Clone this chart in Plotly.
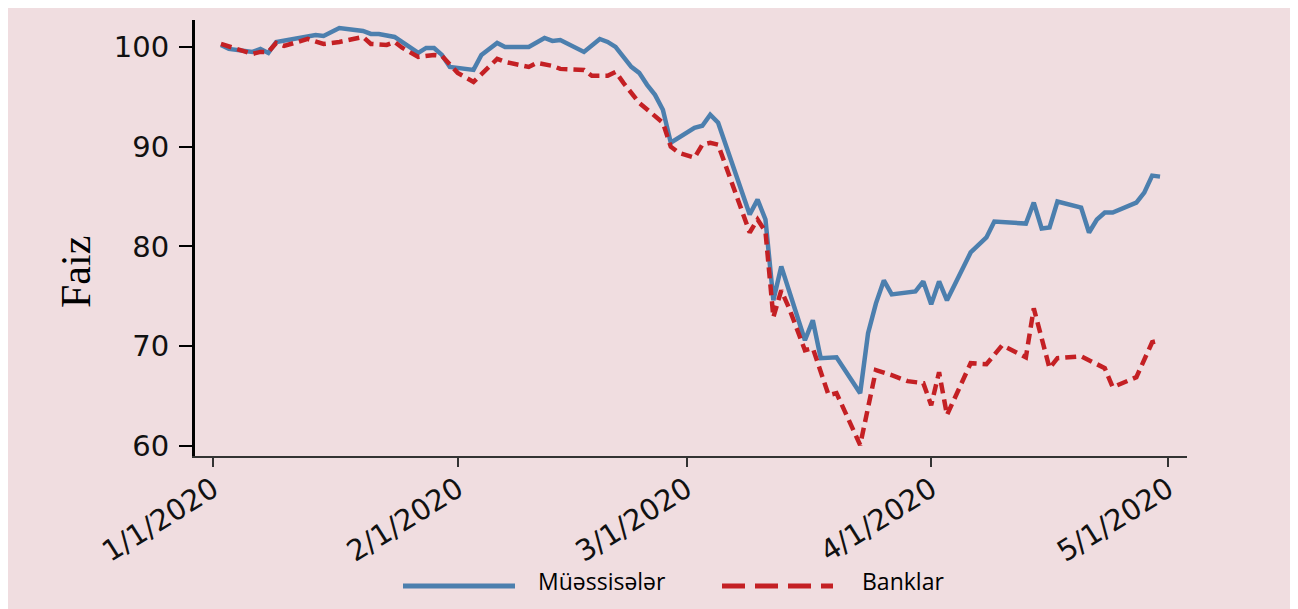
import plotly.graph_objects as go

# ---------------- data ----------------
firms_dates = ["2020-01-02","2020-01-03","2020-01-06","2020-01-07","2020-01-08","2020-01-09","2020-01-14","2020-01-15","2020-01-17","2020-01-20","2020-01-21","2020-01-22","2020-01-24","2020-01-27","2020-01-28","2020-01-29","2020-01-30","2020-01-31",
               "2020-02-03","2020-02-04","2020-02-06","2020-02-07","2020-02-10","2020-02-12","2020-02-13","2020-02-14","2020-02-17","2020-02-19","2020-02-20","2020-02-21","2020-02-23","2020-02-24","2020-02-25","2020-02-26","2020-02-27","2020-02-28",
               "2020-03-02","2020-03-03","2020-03-04","2020-03-05","2020-03-09","2020-03-10","2020-03-11","2020-03-12","2020-03-13","2020-03-16","2020-03-17","2020-03-18","2020-03-20","2020-03-23","2020-03-24","2020-03-25","2020-03-26","2020-03-27","2020-03-30","2020-03-31",
               "2020-04-01","2020-04-02","2020-04-03","2020-04-06","2020-04-08","2020-04-09","2020-04-13","2020-04-14","2020-04-15","2020-04-16","2020-04-17","2020-04-20","2020-04-21","2020-04-22","2020-04-23","2020-04-24","2020-04-27","2020-04-28","2020-04-29","2020-04-30"]
firms_values = [100.2,99.8,99.5,99.8,99.4,100.5,101.2,101.1,101.9,101.6,101.3,101.3,101.0,99.4,99.9,99.9,99.2,98.0,
                97.7,99.2,100.4,100.0,100.0,100.9,100.6,100.7,99.5,100.8,100.5,100.0,98.0,97.4,96.2,95.2,93.7,90.4,
                91.9,92.1,93.2,92.4,83.2,84.7,82.7,74.6,78.0,70.6,72.6,68.8,68.9,65.3,71.3,74.3,76.6,75.2,75.5,76.5,
                74.2,76.5,74.6,79.4,80.9,82.5,82.3,84.4,81.8,81.9,84.5,83.9,81.4,82.7,83.4,83.4,84.4,85.4,87.1,87.0]

banks_dates = ["2020-01-02","2020-01-06","2020-01-07","2020-01-08","2020-01-09","2020-01-10","2020-01-13","2020-01-14","2020-01-15","2020-01-17","2020-01-20","2020-01-21","2020-01-23","2020-01-24","2020-01-25","2020-01-27","2020-01-29","2020-01-30","2020-01-31",
               "2020-02-01","2020-02-03","2020-02-06","2020-02-07","2020-02-09","2020-02-10","2020-02-11","2020-02-13","2020-02-14","2020-02-17","2020-02-18","2020-02-20","2020-02-21","2020-02-22","2020-02-24","2020-02-25","2020-02-27","2020-02-28","2020-02-29",
               "2020-03-02","2020-03-03","2020-03-04","2020-03-05","2020-03-09","2020-03-10","2020-03-11","2020-03-12","2020-03-13","2020-03-14","2020-03-16","2020-03-17","2020-03-19","2020-03-20","2020-03-23","2020-03-25","2020-03-27","2020-03-29","2020-03-31",
               "2020-04-01","2020-04-02","2020-04-03","2020-04-06","2020-04-08","2020-04-10","2020-04-13","2020-04-14","2020-04-16","2020-04-17","2020-04-20","2020-04-23","2020-04-24","2020-04-27","2020-04-29","2020-04-30"]
banks_values = [100.3,99.3,99.5,99.5,100.4,100.1,100.8,100.6,100.3,100.5,101.0,100.3,100.2,100.5,99.9,99.0,99.2,99.1,98.2,
                97.4,96.5,98.8,98.5,98.2,98.0,98.4,98.1,97.8,97.7,97.1,97.1,97.5,96.4,94.4,93.7,92.4,90.0,89.4,
                88.9,90.2,90.4,90.2,81.4,82.7,81.5,72.9,75.6,73.8,69.6,69.8,65.1,65.3,60.1,67.6,67.1,66.5,66.3,
                64.1,67.4,63.1,68.3,68.2,70.1,68.9,73.8,67.8,68.8,69.0,67.8,65.9,66.9,70.4,70.6]

series_names = ["Müəssisələr", "Banklar"]
tick_dates = ["2020-01-01", "2020-02-01", "2020-03-01", "2020-04-01", "2020-05-01"]
tick_labels = ["1/1/2020", "2/1/2020", "3/1/2020", "4/1/2020", "5/1/2020"]
y_ticks = [60, 70, 80, 90, 100]
y_title = "Faiz"

# ---------------- style ----------------
BG = "#F0DDE0"
BLUE = "#4C7FAE"
RED = "#C42024"

# the page body has an 8px margin; the figure sits at (8, 8)
OFF = 8
PAGE_W, PAGE_H = 1298, 609
W, H = PAGE_W - OFF, PAGE_H - OFF
# plot area in page pixels
X0, X1, Y0, Y1 = 195, 1187, 20, 456
L, R, T, B = X0 - OFF, PAGE_W - X1, Y0 - OFF, PAGE_H - Y1
PW, PH = X1 - X0, Y1 - Y0

def px(xp):
    return (xp - X0) / PW

def py(yp):
    return (Y1 - yp) / PH

fig = go.Figure()
fig.add_trace(go.Scatter(x=firms_dates, y=firms_values, mode="lines", name=series_names[0],
                         line=dict(color=BLUE, width=4.5), showlegend=False))
fig.add_trace(go.Scatter(x=banks_dates, y=banks_values, mode="lines", name=series_names[1],
                         line=dict(color=RED, width=4.5, dash="11px,6px"), showlegend=False))

fig.update_layout(
    width=W, height=H,
    paper_bgcolor=BG, plot_bgcolor=BG,
    margin=dict(l=L, r=R, t=T, b=B, autoexpand=False),
    showlegend=False,
    xaxis=dict(
        type="date",
        range=["2019-12-29 17:00", "2020-05-03 10:00"],
        tickvals=tick_dates, ticktext=tick_labels,
        tickangle=-32,
        tickfont=dict(family="DejaVu Sans", size=29, color="#111111"),
        showgrid=False, zeroline=False,
        showline=True, linecolor="#333333", linewidth=2,
        ticks="outside", ticklen=9, tickwidth=2, tickcolor="#333333",
        ticklabelstandoff=-6,
        automargin=False,
    ),
    yaxis=dict(
        range=[59.0, 102.7],
        tickvals=y_ticks, ticktext=[str(v) for v in y_ticks],
        tickfont=dict(family="DejaVu Sans", size=29, color="#111111"),
        showgrid=False, zeroline=False,
        showline=True, linecolor="#000000", linewidth=3,
        ticks="outside", ticklen=13, tickwidth=2, tickcolor="#000000",
        ticklabelstandoff=4,
        automargin=False,
    ),
)

# y-axis title
fig.add_annotation(text=y_title, xref="paper", yref="paper", x=px(76), y=py(272),
                   showarrow=False, textangle=-90,
                   font=dict(family="Liberation Serif", size=42, color="#000000"),
                   xanchor="center", yanchor="middle")

# manual legend below the chart
leg_y = py(586)
fig.add_shape(type="line", xref="paper", yref="paper", x0=px(403), x1=px(515), y0=leg_y, y1=leg_y,
              line=dict(color=BLUE, width=5))
fig.add_shape(type="line", xref="paper", yref="paper", x0=px(722), x1=px(833), y0=leg_y, y1=leg_y,
              line=dict(color=RED, width=5, dash="23px,10px"))
fig.add_annotation(text=series_names[0], xref="paper", yref="paper", x=px(536), y=py(581),
                   showarrow=False, xanchor="left", yanchor="middle",
                   font=dict(family="Open Sans", size=23, color="#000000"))
fig.add_annotation(text=series_names[1], xref="paper", yref="paper", x=px(860), y=py(581),
                   showarrow=False, xanchor="left", yanchor="middle",
                   font=dict(family="Open Sans", size=23, color="#000000"))

fig.write_html("out.html")
